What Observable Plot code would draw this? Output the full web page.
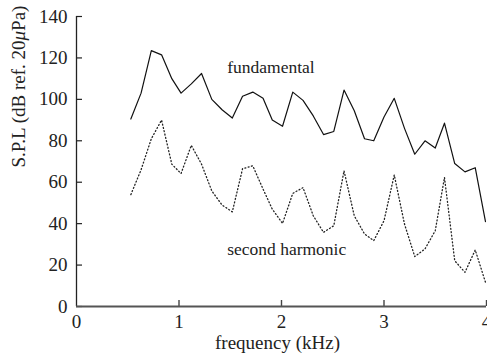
<!DOCTYPE html>
<html>
<head>
<meta charset="utf-8">
<script src="https://cdn.jsdelivr.net/npm/d3@7"></script>
<script src="https://cdn.jsdelivr.net/npm/@observablehq/plot@0.6"></script>
<style>
  html, body { margin: 0; padding: 0; background: #fff; }
  #chart svg, #chart svg text, #chart svg tspan {
    font-family: "Liberation Serif", "DejaVu Serif", serif !important;
  }
</style>
</head>
<body>
<div id="chart"></div>
<script>
// Frequency samples (kHz)
const frequency = [0.53, 0.63, 0.73, 0.83, 0.93, 1.02, 1.12, 1.22, 1.32, 1.42,
                   1.52, 1.62, 1.72, 1.82, 1.91, 2.01, 2.11, 2.21, 2.31, 2.41,
                   2.51, 2.61, 2.71, 2.81, 2.90, 3.00, 3.10, 3.20, 3.30, 3.40,
                   3.50, 3.59, 3.69, 3.79, 3.89, 3.99];

// Sound pressure level (dB re 20 µPa)
const fundamental = [90.5, 103, 123.5, 121.5, 110, 103, 107.5, 112.5, 100, 95,
                     91, 101.5, 103.5, 100.5, 90, 87, 103.5, 99.5, 92, 83,
                     84.5, 104.5, 94.5, 81, 80, 91.5, 100.5, 86, 73.5, 80,
                     76.5, 88.5, 69, 65, 67, 41];

const secondHarmonic = [54, 66, 81, 90, 68.7, 64.2, 77.8, 68.7, 55.8, 49,
                        45.7, 66.5, 67.9, 56.7, 47, 40.1, 54.6, 57.4, 43.8, 35.8,
                        39, 65.5, 43.8, 35, 31.8, 41.4, 63.5, 39.8, 24.1, 27.8,
                        36.6, 62.3, 22.1, 16.5, 27.3, 11.7];

const xTicks = [0, 1, 2, 3, 4];
const yTicks = [0, 20, 40, 60, 80, 100, 120, 140];

const curveLabels = ["fundamental", "second harmonic"];
const curveLabelX = [1.47, 1.47];
const curveLabelY = [115.5, 27.8];

const xLabel = "frequency (kHz)";
const yLabel = "S.P.L (dB ref. 20μPa)";

const fundRows = frequency.map((f, i) => ({f, v: fundamental[i]}));
const harmRows = frequency.map((f, i) => ({f, v: secondHarmonic[i]}));
const labelRows = curveLabels.map((t, i) => ({t, x: curveLabelX[i], y: curveLabelY[i]}));

const W = 487, H = 356;
const mL = 76, mR = 1, mT = 16, mB = 50;
const tickLen = 6;

const plot = Plot.plot({
  width: W,
  height: H,
  marginLeft: mL,
  marginRight: mR,
  marginTop: mT,
  marginBottom: mB,
  style: {fontSize: "19px", color: "#222", background: "#fff"},
  x: {domain: [0, 4], label: null},
  y: {domain: [0, 140], label: null},
  marks: [
    // tick labels
    Plot.axisY({ticks: yTicks, tickSize: 0, tickPadding: 9, label: null, fill: "#222"}),
    Plot.axisX({ticks: xTicks, tickSize: 0, tickPadding: 8, label: null, fill: "#222", tickFormat: d3.format("d")}),
    // inward-pointing tick marks
    Plot.tickY(yTicks, {y: d => d, stroke: "#222", strokeWidth: 1.2, insetRight: (W - mL - mR) - tickLen}),
    Plot.tickX(xTicks.slice(1), {x: d => d, stroke: "#444", strokeWidth: 1.4, insetTop: (H - mT - mB) - tickLen}),
    // axis lines
    Plot.ruleX([0], {stroke: "#222", strokeWidth: 1.3}),
    Plot.ruleY([0], {stroke: "#555", strokeWidth: 1.8}),
    // curves
    Plot.line(fundRows, {x: "f", y: "v", stroke: "#111", strokeWidth: 1.2}),
    Plot.line(harmRows, {x: "f", y: "v", stroke: "#222", strokeWidth: 1.3, strokeDasharray: "1 2.4"}),
    // annotations and axis titles
    Plot.text(labelRows, {x: "x", y: "y", text: "t", textAnchor: "start", fontSize: 17.5, fill: "#222"}),
    Plot.text([xLabel], {frameAnchor: "bottom", dx: -4, dy: 42, fontSize: 19, fill: "#222"}),
    Plot.text([yLabel], {frameAnchor: "left", rotate: -90, dx: -58, dy: 6, fontSize: 19, fill: "#222"})
  ]
});

document.getElementById("chart").appendChild(plot);

// Italic mu in the y-axis title
d3.select(plot).selectAll("text").each(function () {
  const el = d3.select(this);
  const s = el.text();
  if (s === yLabel) {
    const i = s.indexOf("μ");
    el.text(null);
    el.append("tspan").text(s.slice(0, i));
    el.append("tspan").attr("font-style", "italic").text("μ");
    el.append("tspan").text(s.slice(i + 1));
  }
});
</script>
</body>
</html>
